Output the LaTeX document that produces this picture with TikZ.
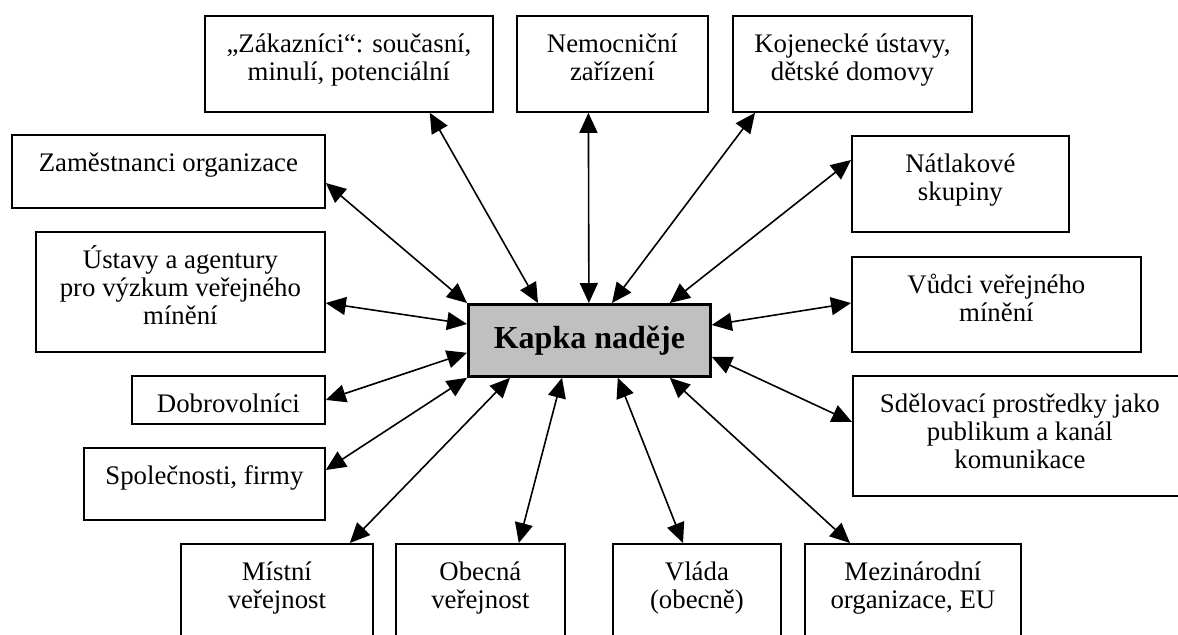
\documentclass[tikz,border=0pt]{standalone}
\usepackage[svgnames]{xcolor}
\usepackage{fontspec}
\setmainfont{Liberation Serif}
\usetikzlibrary{arrows.meta}

\begin{document}
\begin{tikzpicture}[x=.5pt,y=-.5pt,
                    font={\fontsize{13.4}{14}\selectfont},
                    >={Triangle[length=10pt,width=9pt]},
                    party/.style 2 args={draw,line width=.9pt,align=center,anchor=north west,inner xsep=2pt,inner ysep=0pt,text height=#1,text depth=#2},
                    hub/.style={draw,line width=1.4pt,fill=Silver,anchor=north west,minimum width=121pt,minimum height=36pt,font={\bfseries\fontsize{16}{19}\selectfont}},
                    link/.style={<->,line width=.8pt}]
  \useasboundingbox (0,0) rectangle (1178,634);
  \clip (0,0) rectangle (1178,634);
  \node[hub] (kapka) at (467,303) {Kapka naděje};
  \node[party={32.5pt}{15.5pt},minimum width=144pt] (zakaznici) at (204,15) {„Zákazníci“: současní,\\minulí, potenciální};
  \node[party={32.5pt}{15.5pt},minimum width=95.5pt] (nemocnice) at (516,15) {Nemocniční\\zařízení};
  \node[party={32.5pt}{15.5pt},minimum width=119.5pt] (kojenci) at (732,15) {Kojenecké ústavy,\\dětské domovy};
  \node[party={18.5pt}{18pt},minimum width=156.5pt] (zamestnanci) at (11,134) {Zaměstnanci organizace};
  \node[party={32.5pt}{15.5pt},minimum width=108.5pt] (natlak) at (851,135) {Nátlakové\\skupiny};
  \node[party={46.5pt}{13.5pt},minimum width=144.5pt] (ustavy) at (35,231) {Ústavy a agentury\\pro výzkum veřejného\\mínění};
  \node[party={32.5pt}{15pt},minimum width=144.5pt] (vudci) at (851,256) {Vůdci veřejného\\mínění};
  \node[party={18.5pt}{5.5pt},minimum width=96.5pt] (dobrovolnici) at (131,375) {Dobrovolníci};
  \node[party={46.5pt}{13.5pt},minimum width=167pt] (media) at (852,375) {Sdělovací prostředky jako\\publikum a kanál\\komunikace};
  \node[party={18.5pt}{17.5pt},minimum width=120.5pt] (firmy) at (83,447) {Společnosti, firmy};
  \node[party={32.5pt}{27.5pt},minimum width=96pt] (mistni) at (180,543) {Místní\\veřejnost};
  \node[party={32.5pt}{27.5pt},minimum width=84.5pt] (obecna) at (395,543) {Obecná\\veřejnost};
  \node[party={32.5pt}{27.5pt},minimum width=84pt] (vlada) at (612,543) {Vláda\\(obecně)};
  \node[party={32.5pt}{27.5pt},minimum width=108pt] (mezinarodni) at (804,543) {Mezinárodní\\organizace, EU};
  \draw[link] ([xshift=-32pt]zakaznici.south east) -- ([xshift=35.5pt]kapka.north west);
  \draw[link] ([xshift=-12pt]nemocnice.south) -- ([xshift=-.25pt]kapka.north);
  \draw[link] ([xshift=11.5pt]kojenci.south west) -- ([xshift=72.5pt]kapka.north west);
  \draw[link] ([yshift=-24.5pt]zamestnanci.north east) -- (kapka.north west);
  \draw[link] ([yshift=-36pt]ustavy.north east) -- ([yshift=-10.5pt]kapka.north west);
  \draw[link] ([yshift=-12.5pt]natlak.north west) -- ([xshift=-21pt]kapka.north east);
  \draw[link] ([yshift=-23.5pt]vudci.north west) -- ([yshift=-11pt]kapka.north east);
  \draw[link] (dobrovolnici.east) -- ([yshift=12.5pt]kapka.south west);
  \draw[link] ([yshift=-23.5pt]media.north west) -- ([yshift=10.5pt]kapka.south east);
  \draw[link] ([yshift=-11.5pt]firmy.north east) -- (kapka.south west);
  \draw[link] ([xshift=-12pt]mistni.north east) -- ([xshift=21.5pt]kapka.south west);
  \draw[link] ([xshift=-23.5pt]obecna.north east) -- ([xshift=47.5pt]kapka.south west);
  \draw[link] ([xshift=-47pt]kapka.south east) -- ([xshift=35.5pt]vlada.north west);
  \draw[link] ([xshift=-21pt]kapka.south east) -- ([xshift=23pt]mezinarodni.north west);
\end{tikzpicture}
\end{document}
